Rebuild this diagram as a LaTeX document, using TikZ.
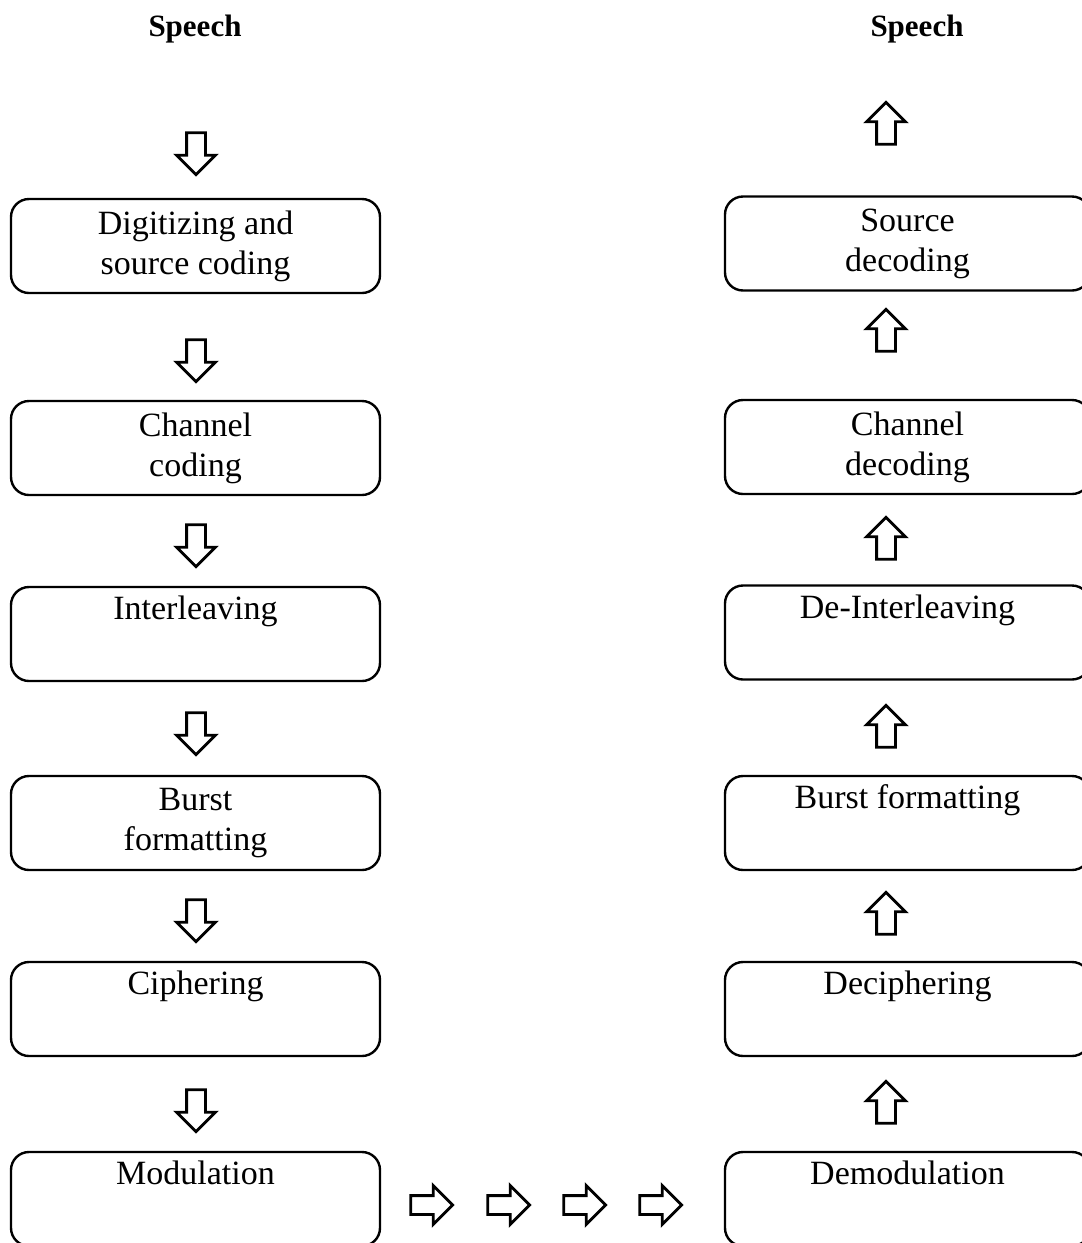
\documentclass[tikz,border=0pt]{standalone}
\usepackage{fontspec}
\setmainfont{Liberation Serif}
\usepackage{tikz}
\usetikzlibrary{shapes.arrows}
\tikzstyle{block}=[draw, line width=1.2pt, rounded corners=9pt, minimum height=47pt, align=center, inner sep=0pt, font=\fontsize{17}{20}\selectfont]
\tikzstyle{hollow}=[single arrow, draw, line width=1.4pt, inner sep=4pt, minimum height=21pt, single arrow head extend=5pt]
\tikzstyle{title}=[font=\fontsize{15.5}{18}\selectfont\bfseries]
\def\L{184.5pt}
\def\R{182.5pt}

\begin{document}
\begin{tikzpicture}[x=0.5pt, y=-0.5pt]
		\useasboundingbox (0,0) rectangle (1082,1243);
		\clip (0,0) rectangle (1082,1243);
		% sender side
		\node[title] (SL) at (195,29) {Speech};
		\node[block, minimum width=\L] (T1) at (195.5,246) {Digitizing and\\source coding};
		\node[block, minimum width=\L] (T2) at (195.5,448) {Channel\\coding};
		\node[block, minimum width=\L] (T3) at (195.5,634) {Interleaving\\\strut};
		\node[block, minimum width=\L] (T4) at (195.5,823) {Burst\\formatting};
		\node[block, minimum width=\L] (T5) at (195.5,1009) {Ciphering\\\strut};
		\node[block, minimum width=\L] (T6) at (195.5,1199) {Modulation\\\strut};
		\foreach \y [count=\i] in {149,356,541,729,916,1106}
			\node[hollow, rotate=-90] (DA\i) at (196,\y) {};
		% receiver side
		\node[title] (SR) at (917,29) {Speech};
		\node[block, minimum width=\R] (R1) at (907.5,243.5) {Source\\decoding};
		\node[block, minimum width=\R] (R2) at (907.5,447) {Channel\\decoding};
		\node[block, minimum width=\R] (R3) at (907.5,632.5) {De-Interleaving\\\strut};
		\node[block, minimum width=\R] (R4) at (907.5,823) {Burst formatting\\\strut};
		\node[block, minimum width=\R] (R5) at (907.5,1009) {Deciphering\\\strut};
		\node[block, minimum width=\R] (R6) at (907.5,1199) {Demodulation\\\strut};
		\foreach \y [count=\i] in {128,335,543,731,918,1107}
			\node[hollow, rotate=90] (UA\i) at (886,\y) {};
		% channel
		\foreach \x [count=\i] in {427,504,580,656}
			\node[hollow] (HA\i) at (\x,1205) {};
	\end{tikzpicture}
\end{document}
